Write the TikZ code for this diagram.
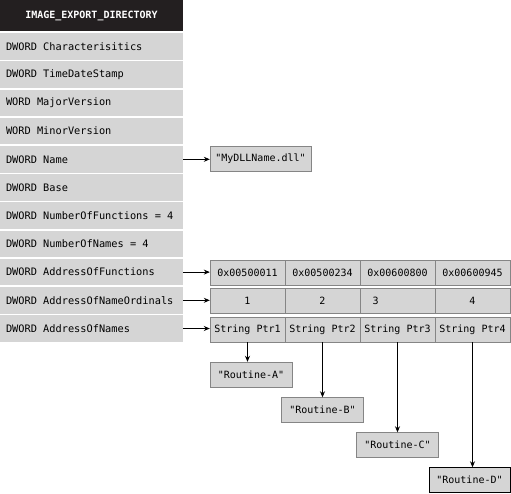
\documentclass[tikz,border=0pt]{standalone}
\usepackage{fontspec}
\setmonofont{DejaVu Sans Mono}
\usetikzlibrary{arrows.meta, positioning}
\definecolor{rowgray}{HTML}{D5D5D5}
\definecolor{edgegray}{HTML}{858585}
\definecolor{hdrblack}{HTML}{231F20}
\newcommand{\fieldtxt}[1]{\makebox[171pt][l]{#1}}

\begin{document}
\begin{tikzpicture}[
    x=1pt, y=-1pt,
    hdr/.style={fill=hdrblack, text=white, minimum width=183pt, minimum height=31pt, inner sep=0pt, font=\ttfamily\bfseries\fontsize{10}{12}\selectfont},
    row/.style={fill=rowgray, minimum width=183pt, minimum height=26.5pt, inner sep=0pt, font=\ttfamily\fontsize{10.3}{12}\selectfont},
    cell/.style={draw=edgegray, fill=rowgray, minimum width=75pt, minimum height=25pt, inner sep=0pt, font=\ttfamily\fontsize{10}{12}\selectfont},
    str/.style={draw=edgegray, fill=rowgray, minimum width=82pt, minimum height=25pt, inner sep=0pt, font=\ttfamily\fontsize{10}{12}\selectfont},
    arrow/.style={-{Stealth[length=6pt, width=5pt]}, thick}
]
    \useasboundingbox (0,0) rectangle (511,493);

    % structure fields
    \node[hdr] (dir)  at (91.5,15.5)  {IMAGE\_EXPORT\_DIRECTORY};
    \node[row] (chr)  at (91.5,46.5)  {\fieldtxt{DWORD Characterisitics}};
    \node[row] (tds)  at (91.5,74.7)  {\fieldtxt{DWORD TimeDateStamp}};
    \node[row] (majv) at (91.5,102.9) {\fieldtxt{WORD MajorVersion}};
    \node[row] (minv) at (91.5,131.1) {\fieldtxt{WORD MinorVersion}};
    \node[row] (name) at (91.5,159.3) {\fieldtxt{DWORD Name}};
    \node[row] (base) at (91.5,187.5) {\fieldtxt{DWORD Base}};
    \node[row] (nfun) at (91.5,215.7) {\fieldtxt{DWORD NumberOfFunctions = 4}};
    \node[row] (nnam) at (91.5,243.9) {\fieldtxt{DWORD NumberOfNames = 4}};
    \node[row] (aof)  at (91.5,272.1) {\fieldtxt{DWORD AddressOfFunctions}};
    \node[row] (aono) at (91.5,300.3) {\fieldtxt{DWORD AddressOfNameOrdinals}};
    \node[row] (aon)  at (91.5,328.5) {\fieldtxt{DWORD AddressOfNames}};

    \node[cell, minimum width=101pt] (dll) at (260.5,159) {"MyDLLName.dll"};

    % arrays
    \node[cell] (f1) at (247.5,272.5) {0x00500011};
    \node[cell] (f2) at (322.5,272.5) {0x00500234};
    \node[cell] (f3) at (397.5,272.5) {0x00600800};
    \node[cell] (f4) at (472.5,272.5) {0x00600945};

    \node[cell] (o1) at (247.5,301) {1};
    \node[cell] (o2) at (322.5,301) {2};
    \node[cell] (o3) at (397.5,301) {\makebox[50pt][l]{3}};
    \node[cell] (o4) at (472.5,301) {4};

    \node[cell] (s1) at (247.5,329.5) {String Ptr1};
    \node[cell] (s2) at (322.5,329.5) {String Ptr2};
    \node[cell] (s3) at (397.5,329.5) {String Ptr3};
    \node[cell] (s4) at (472.5,329.5) {String Ptr4};

    % name strings
    \node[str] (ra) at (251,374.5) {"Routine-A"};
    \node[str] (rb) at (322.5,410) {"Routine-B"};
    \node[str] (rc) at (397.5,445) {"Routine-C"};
    \node[str, draw=black, minimum width=81pt] (rd) at (469.5,480) {"Routine-D"};

    \draw[arrow] (name.east) -- (name.east -| dll.west);
    \draw[arrow] (aof.east)  -- (aof.east -| f1.west);
    \draw[arrow] (aono.east) -- (aono.east -| o1.west);
    \draw[arrow] (aon.east)  -- (aon.east -| s1.west);

    \draw[arrow] (s1.south) -- (s1.south |- ra.north);
    \draw[arrow] (s2.south) -- (s2.south |- rb.north);
    \draw[arrow] (s3.south) -- (s3.south |- rc.north);
    \draw[arrow] (s4.south) -- (s4.south |- rd.north);
\end{tikzpicture}
\end{document}
